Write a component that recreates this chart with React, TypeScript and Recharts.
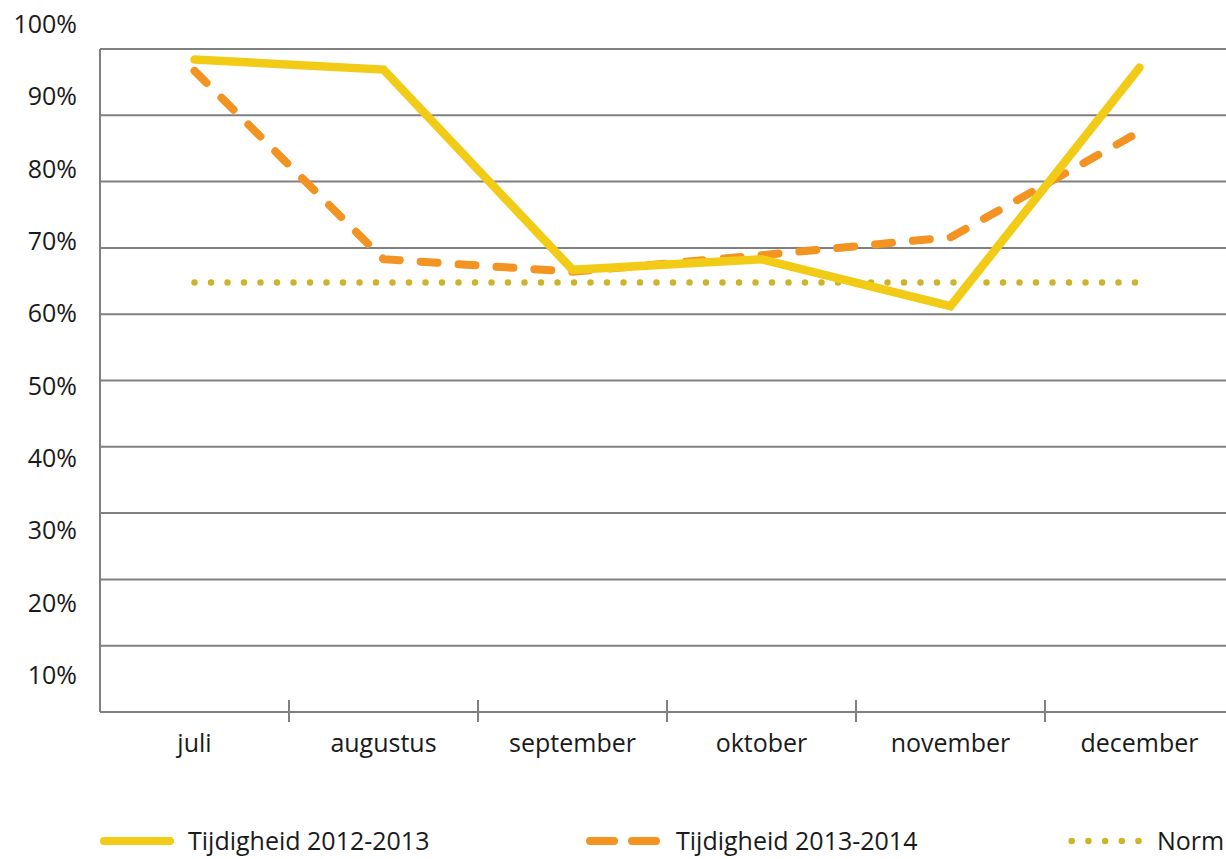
import React from "react";
import { LineChart, Line, XAxis, YAxis, CartesianGrid, Legend } from "recharts";

const months = ["juli", "augustus", "september", "oktober", "november", "december"];
const tijdigheid2012 = [98.4, 96.9, 66.7, 68.3, 61.2, 97.2];
const tijdigheid2013 = [96.7, 68.3, 66.4, 68.9, 71.6, 87.5];
const norm = [64.8, 64.8, 64.8, 64.8, 64.8, 64.8];
const gridTicks = [0, 10, 20, 30, 40, 50, 60, 70, 80, 90, 100];
const labelTicks = [10, 20, 30, 40, 50, 60, 70, 80, 90, 100];
const boundaryTicks = [1, 2, 3, 4, 5];
const monthTicks = months.map((_, i) => i + 0.5);

const data = months.map((m, i) => ({
  month: m,
  pos: i + 0.5,
  t2012: tijdigheid2012[i],
  t2013: tijdigheid2013[i],
  norm: norm[i],
}));

const FONT = "'Open Sans', sans-serif";
const YELLOW = "#F2CB17";
const ORANGE = "#F29322";
const NORMC = "#CDB52B";
const GRID = "#808080";
const TEXT = "#1a1a1a";

const BoundaryTick = (props: any) => (
  <line x1={props.x} x2={props.x} y1={props.y - 12} y2={props.y + 10} stroke={GRID} strokeWidth={2} />
);

const EmptyTick = () => <g />;

const LegendContent = () => (
  <div style={{ position: "relative", width: 1226, height: 40, fontFamily: FONT, fontSize: 25, color: TEXT }}>
    <svg width={1226} height={40} style={{ position: "absolute", left: 0, top: 0 }}>
      <line x1={104} x2={170} y1={20} y2={20} stroke={YELLOW} strokeWidth={8} strokeLinecap="round" />
      <line x1={590} x2={656} y1={20} y2={20} stroke={ORANGE} strokeWidth={8} strokeLinecap="round" strokeDasharray="24 18" />
      <line x1={1071.7} x2={1139} y1={20} y2={20} stroke={NORMC} strokeWidth={6.5} strokeLinecap="round" strokeDasharray="0 16.7" />
      <text x={188} y={29} fontFamily={FONT} fontSize={25} fill={TEXT}>Tijdigheid 2012-2013</text>
      <text x={676} y={29} fontFamily={FONT} fontSize={25} fill={TEXT}>Tijdigheid 2013-2014</text>
      <text x={1157} y={29} fontFamily={FONT} fontSize={25} fill={TEXT}>Norm</text>
    </svg>
  </div>
);

export default function App() {
  return (
    <div style={{ position: "absolute", left: 0, top: 0, width: 1226, height: 859, overflow: "hidden", background: "#fff" }}>
      <LineChart width={1240} height={859} data={data} margin={{ top: 49, right: 6, left: 0, bottom: 57 }}>
        <CartesianGrid xAxisId="x" yAxisId={0} vertical={false} horizontal={true} stroke={GRID} strokeWidth={2} />
        <XAxis
          xAxisId="b"
          type="number"
          dataKey="pos"
          domain={[0, 6]}
          allowDataOverflow
          ticks={boundaryTicks}
          mirror
          axisLine={false}
          tickLine={false}
          tickSize={0}
          tickMargin={0}
          interval={0}
          tick={<BoundaryTick />}
        />
        <XAxis
          xAxisId="x"
          type="number"
          dataKey="pos"
          domain={[0, 6]}
          allowDataOverflow
          ticks={monthTicks}
          interval={0}
          height={50}
          tickFormatter={(v: number) => months[Math.floor(v)]}
          axisLine={{ stroke: GRID, strokeWidth: 2 }}
          tickLine={false}
          tickSize={0}
          tickMargin={22}
          tick={{ fontFamily: FONT, fontSize: 25, fill: TEXT }}
        />
        <YAxis
          yAxisId={0}
          domain={[0, 100]}
          allowDataOverflow
          ticks={gridTicks}
          interval={0}
          mirror
          tick={<EmptyTick />}
          tickLine={false}
          axisLine={{ stroke: GRID, strokeWidth: 2 }}
        />
        <YAxis
          yAxisId="lbl"
          domain={[4.88, 96.54]}
          ticks={labelTicks}
          interval={0}
          width={100}
          axisLine={false}
          tickLine={false}
          tickSize={0}
          tickMargin={23}
          tickFormatter={(v: number) => `${v}%`}
          tick={{ fontFamily: FONT, fontSize: 25, fill: TEXT }}
          allowDataOverflow
        />
        <Legend
          verticalAlign="bottom"
          content={<LegendContent />}
          wrapperStyle={{ left: 0, top: 821, width: 1226, height: 40 }}
        />
        <Line
          xAxisId="x"
          yAxisId={0}
          dataKey="norm"
          stroke={NORMC}
          strokeWidth={6.5}
          strokeLinecap="round"
          strokeDasharray="0 16.5"
          dot={false}
          activeDot={false}
          isAnimationActive={false}
        />
        <Line
          xAxisId="x"
          yAxisId={0}
          dataKey="t2013"
          stroke={ORANGE}
          strokeWidth={8}
          strokeLinecap="round"
          strokeDasharray="17 21"
          dot={false}
          activeDot={false}
          isAnimationActive={false}
        />
        <Line
          xAxisId="x"
          yAxisId={0}
          dataKey="t2012"
          stroke={YELLOW}
          strokeWidth={8.5}
          strokeLinecap="round"
          dot={false}
          activeDot={false}
          isAnimationActive={false}
        />
      </LineChart>
    </div>
  );
}
